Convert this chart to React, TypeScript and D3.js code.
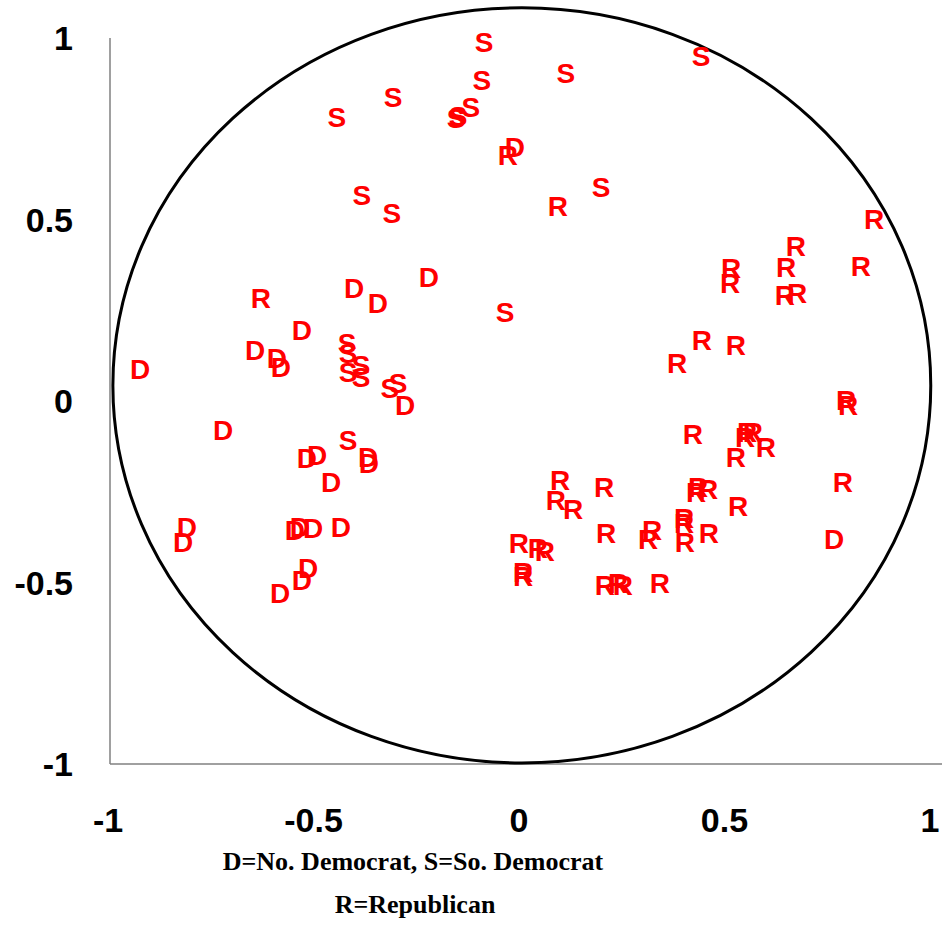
import React from "react";
import * as d3 from "d3";

const width = 942,
  height = 926;

// letter centres, [x, y]
const northDemocrats: [number, number][] = [
  [-0.015, 0.7], [-0.224, 0.342], [-0.406, 0.311], [-0.348, 0.27], [-0.533, 0.196],
  [-0.647, 0.14], [-0.594, 0.118], [-0.584, 0.094], [-0.927, 0.088], [-0.282, -0.011],
  [-0.725, -0.08], [-0.521, -0.157], [-0.496, -0.149], [-0.372, -0.154], [-0.37, -0.171],
  [-0.462, -0.223], [-0.813, -0.347], [-0.822, -0.388], [-0.55, -0.355], [-0.538, -0.347],
  [-0.506, -0.35], [-0.438, -0.347], [-0.518, -0.46], [-0.533, -0.493], [-0.586, -0.529],
  [0.762, -0.38],
];

const southDemocrats: [number, number][] = [
  [-0.09, 0.989], [-0.095, 0.884], [0.109, 0.904], [0.438, 0.95], [-0.311, 0.837],
  [-0.448, 0.782], [-0.158, 0.78], [-0.153, 0.785], [-0.122, 0.81], [0.195, 0.59],
  [-0.387, 0.567], [-0.314, 0.518], [-0.039, 0.245], [-0.423, 0.16], [-0.421, 0.132],
  [-0.389, 0.099], [-0.421, 0.08], [-0.389, 0.066], [-0.319, 0.036], [-0.299, 0.05],
  [-0.421, -0.107],
];

const republicans: [number, number][] = [
  [-0.032, 0.678], [0.09, 0.537], [-0.633, 0.284], [0.859, 0.501], [0.669, 0.427],
  [0.645, 0.369], [0.827, 0.372], [0.511, 0.366], [0.509, 0.325], [0.642, 0.292],
  [0.672, 0.298], [0.44, 0.168], [0.523, 0.154], [0.38, 0.105], [0.791, 0.003],
  [0.796, -0.011], [0.418, -0.091], [0.55, -0.085], [0.564, -0.085], [0.545, -0.099],
  [0.596, -0.127], [0.523, -0.154], [0.783, -0.223], [0.095, -0.218], [0.085, -0.273],
  [0.127, -0.298], [0.202, -0.237], [0.431, -0.237], [0.426, -0.251], [0.455, -0.242],
  [0.528, -0.289], [0.207, -0.364], [0.319, -0.355], [0.309, -0.38], [0.397, -0.322],
  [0.397, -0.336], [0.399, -0.388], [0.457, -0.364], [-0.005, -0.391], [0.041, -0.405],
  [0.058, -0.413], [0.005, -0.471], [0.005, -0.482], [0.204, -0.507], [0.236, -0.501],
  [0.248, -0.507], [0.338, -0.501],
];

const xTicks = [-1, -0.5, 0, 0.5, 1];
const yTicks = [-1, -0.5, 0, 0.5, 1];

const legendLines = ["D=No. Democrat,  S=So. Democrat", "R=Republican"];

export default function App() {
  const x = d3.scaleLinear().domain([-1, 1]).range([110, 932]);
  const y = d3.scaleLinear().domain([-1, 1]).range([764, 38]);

  const points = [
    ...northDemocrats.map(d => ({ k: "D", d })),
    ...southDemocrats.map(d => ({ k: "S", d })),
    ...republicans.map(d => ({ k: "R", d })),
  ];

  const sans = "'Liberation Sans', Arial, sans-serif";

  return (
    <svg
      width={width}
      height={height}
      style={{ position: "absolute", left: 0, top: 0, background: "#fff" }}
    >
      {/* axes */}
      <line x1={x(-1)} x2={x(-1)} y1={y(1)} y2={y(-1)} stroke="#808080" strokeWidth={1.5} />
      <line x1={x(-1)} x2={942} y1={y(-1)} y2={y(-1)} stroke="#808080" strokeWidth={1.5} />

      {/* the drawn circle */}
      <ellipse
        cx={x(0.002)}
        cy={y(0.043)}
        rx={x(0.995) - x(0)}
        ry={y(0) - y(1.04)}
        fill="none"
        stroke="#000"
        strokeWidth={3}
      />

      <g fontFamily={sans} fontWeight="bold" fontSize={34} fill="#000">
        {yTicks.map(t => (
          <text key={"y" + t} x={73} y={y(t)} dy="0.36em" textAnchor="end">
            {String(t)}
          </text>
        ))}
        {xTicks.map(t => (
          <text key={"x" + t} x={x(t) - 2} y={832} textAnchor="middle">
            {String(t)}
          </text>
        ))}
      </g>

      <g fontFamily={sans} fontWeight="bold" fontSize={28} fill="#ff0000" textAnchor="middle">
        {points.map((p, i) => (
          <text key={i} x={x(p.d[0])} y={y(p.d[1])} dy="0.36em">
            {p.k}
          </text>
        ))}
      </g>

      <g
        fontFamily="'Liberation Serif', 'Times New Roman', serif"
        fontWeight="bold"
        fontSize={26}
        fill="#000"
        textAnchor="middle"
        style={{ whiteSpace: "pre" }}
      >
        <text x={413} y={870}>{legendLines[0]}</text>
        <text x={415} y={913}>{legendLines[1]}</text>
      </g>
    </svg>
  );
}
